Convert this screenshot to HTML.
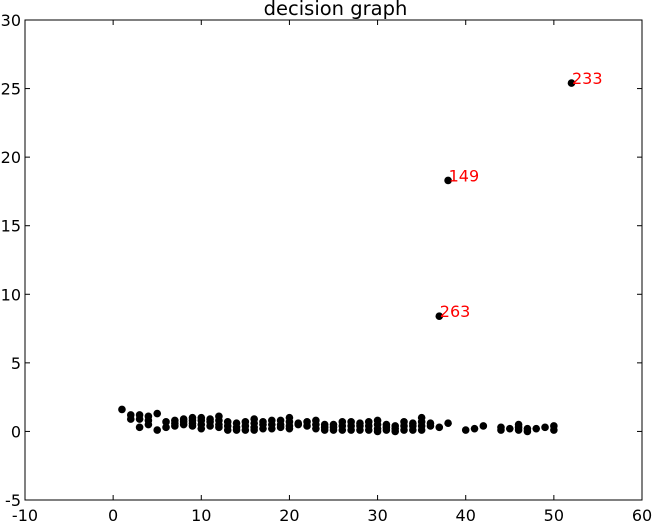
<!DOCTYPE html>
<html><head><meta charset="utf-8"><style>
body{margin:0;background:#fff;}
svg{display:block;font-family:"DejaVu Sans","Liberation Sans",sans-serif;}
</style></head><body>
<svg id="chart" width="653" height="525" viewBox="0 0 653 525" xmlns="http://www.w3.org/2000/svg"></svg>
<script>
const xTicks=[-10,0,10,20,30,40,50,60];
const yTicks=[-5,0,5,10,15,20,25,30];
const clusterX=[1,2,2,3,3,3,4,4,4,5,5,6,6,7,7,7,8,8,8,9,9,9,9,10,10,10,10,11,11,11,12,12,12,12,13,13,13,14,14,14,15,15,15,16,16,16,16,17,17,17,18,18,18,19,19,19,20,20,20,20,21,21,22,22,23,23,23,24,24,24,25,25,25,26,26,26,27,27,27,28,28,28,29,29,29,30,30,30,30,31,31,31,32,32,32,33,33,33,34,34,34,35,35,35,35,36,36,37,38,40,41,42,44,44,45,46,46,46,47,47,48,49,50,50];
const clusterY=[1.6,1.2,0.9,1.2,0.9,0.3,1.1,0.8,0.5,1.3,0.1,0.7,0.3,0.8,0.6,0.4,0.9,0.7,0.5,1.0,0.8,0.6,0.4,1.0,0.8,0.5,0.2,0.9,0.7,0.4,1.1,0.8,0.5,0.3,0.7,0.4,0.1,0.6,0.3,0.1,0.7,0.4,0.1,0.9,0.6,0.3,0.1,0.7,0.5,0.2,0.8,0.5,0.2,0.8,0.5,0.3,1.0,0.7,0.4,0.2,0.6,0.5,0.7,0.4,0.8,0.5,0.2,0.5,0.3,0.1,0.5,0.3,0.1,0.7,0.4,0.1,0.7,0.4,0.1,0.6,0.4,0.1,0.7,0.4,0.1,0.8,0.5,0.2,0.0,0.5,0.3,0.1,0.4,0.2,0.0,0.7,0.4,0.1,0.6,0.4,0.1,1.0,0.7,0.4,0.1,0.6,0.4,0.3,0.6,0.1,0.2,0.4,0.3,0.1,0.2,0.5,0.3,0.1,0.2,0.0,0.2,0.3,0.4,0.1];
const outlierX=[37,38,52];
const outlierY=[8.4,18.3,25.4];
const outlierLabels=["263","149","233"];

const L=25,R=642,T=20,B=500;
const xs=v=>L+(v-(-10))/70*(R-L);
const ys=v=>B-(v-(-5))/35*(B-T);
const NS="http://www.w3.org/2000/svg";
const svg=document.getElementById('chart');
function mk(tag,attrs){const e=document.createElementNS(NS,tag);for(const k in attrs)e.setAttribute(k,attrs[k]);svg.appendChild(e);return e;}

const frame=mk('rect',{x:L,y:T,width:R-L,height:B-T,fill:'none',stroke:'#000','stroke-width':1});



xTicks.forEach(v=>{
  const x=xs(v);
  const t1=mk('line',{x1:x,y1:B,x2:x,y2:B-5,stroke:'#000'});
  
  
  const t2=mk('line',{x1:x,y1:T,x2:x,y2:T+5,stroke:'#000'});
  
  
  const tx=mk('text',{x:x,y:B+21,'text-anchor':'middle','font-size':16});
  tx.textContent=v;
  
  
});
yTicks.forEach(v=>{
  const y=ys(v);
  const t1=mk('line',{x1:L,y1:y,x2:L+5,y2:y,stroke:'#000'});
  
  
  const t2=mk('line',{x1:R,y1:y,x2:R-5,y2:y,stroke:'#000'});
  
  
  const tx=mk('text',{x:L-4,y:y+6,'text-anchor':'end','font-size':16});
  tx.textContent=v;
  
  
});

const title=mk('text',{x:(L+R)/2+2,y:15,'text-anchor':'middle','font-size':19.5});
title.textContent='decision graph';



clusterX.forEach((v,i)=>{
  const c=mk('circle',{cx:xs(v),cy:ys(clusterY[i]),r:3.8,fill:'#000'});
  
  
});
outlierX.forEach((v,i)=>{
  const c=mk('circle',{cx:xs(v),cy:ys(outlierY[i]),r:3.8,fill:'#000'});
  
  
  const t=mk('text',{x:xs(v)+0.5,y:ys(outlierY[i])+1,'font-size':16,fill:'#ff0000'});
  t.textContent=outlierLabels[i];
  
  
});
</script>
</body></html>
